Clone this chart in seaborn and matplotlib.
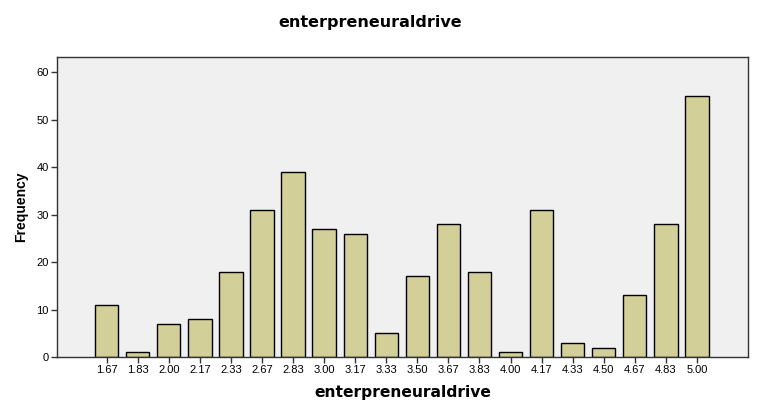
import pandas as pd
import seaborn as sns
import matplotlib.pyplot as plt

categories = ["1.67", "1.83", "2.00", "2.17", "2.33", "2.67", "2.83", "3.00", "3.17", "3.33",
              "3.50", "3.67", "3.83", "4.00", "4.17", "4.33", "4.50", "4.67", "4.83", "5.00"]
frequency = [11, 1, 7, 8, 18, 31, 39, 27, 26, 5, 17, 28, 18, 1, 31, 3, 2, 13, 28, 55]
y_ticks = [0, 10, 20, 30, 40, 50, 60]

df = pd.DataFrame({"enterpreneuraldrive": categories, "Frequency": frequency})

sns.set_style("white")
plt.rcParams["font.family"] = ["Liberation Sans", "DejaVu Sans"]
plt.rcParams["text.color"] = "black"
plt.rcParams["axes.labelcolor"] = "black"
plt.rcParams["xtick.color"] = "black"
plt.rcParams["ytick.color"] = "black"

fig = plt.figure(figsize=(7.68, 4.08), dpi=100)
ax = fig.add_axes([0.0742, 0.125, 0.9, 0.735])
ax.set_facecolor("#F0F0F0")

sns.barplot(data=df, x="enterpreneuraldrive", y="Frequency", color="#D3CF98",
            saturation=1, width=0.75, edgecolor="black", linewidth=1.0, ax=ax)

ax.set_xlim(-1.6, 20.65)
ax.set_ylim(0, 63.2)
ax.set_yticks(y_ticks)
ax.tick_params(axis="both", direction="out", length=4, width=1, labelsize=8, pad=2,
               bottom=True, left=True, color="#333333")
for s in ax.spines.values():
    s.set_linewidth(1.0)
    s.set_color("#333333")

fig.text(0.482, 0.944, "enterpreneuraldrive", fontsize=11.5, fontweight="bold",
         family="DejaVu Sans", ha="center", va="center")
ax.set_xlabel("enterpreneuraldrive", fontsize=11.2, fontweight="bold", labelpad=7,
              family="DejaVu Sans")
ax.set_ylabel("Frequency", fontsize=10, fontweight="bold", labelpad=6)

plt.savefig("out.png", dpi=100)
plt.close()
